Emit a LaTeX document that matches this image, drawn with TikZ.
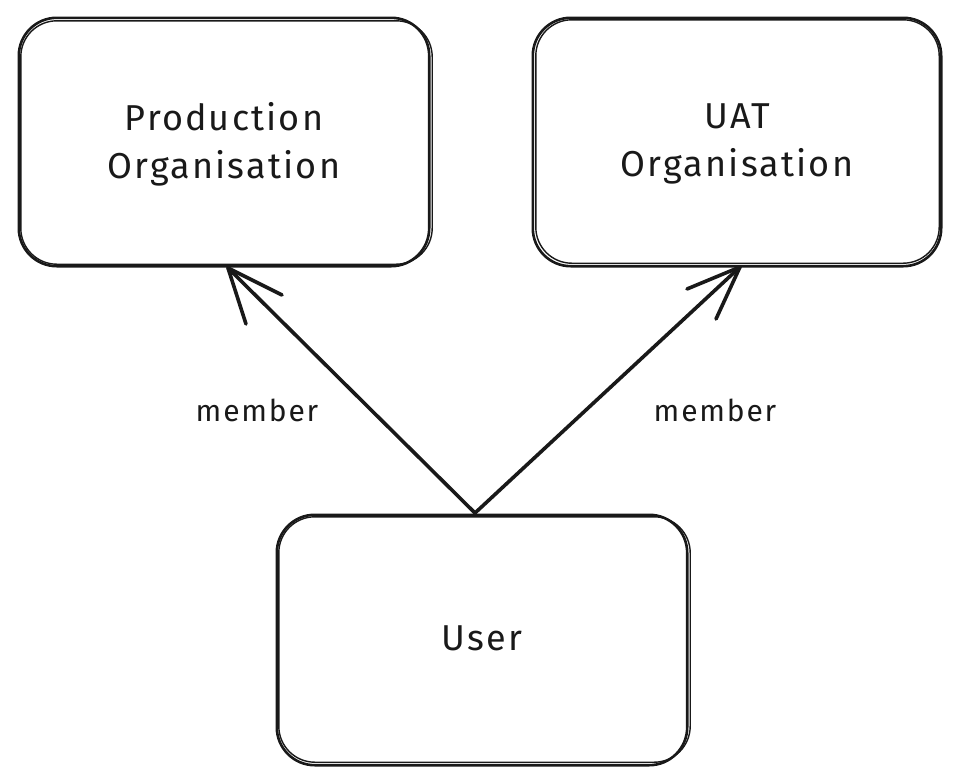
\documentclass[tikz,border=0pt]{standalone}
\usepackage{fontspec}
\setmainfont{Fira Sans}[LetterSpace=6]
\begin{document}
\begin{tikzpicture}[x=1pt,y=-1pt,
  boxline/.style={draw=black!90, line width=2.6pt, rounded corners=38pt},
  boxline2/.style={draw=black!90, line width=1.4pt, rounded corners=36pt},
  conn/.style={draw=black!90, line width=3.6pt, line cap=round},
  label/.style={font=\fontsize{36}{48}\selectfont, align=center, text=black!90},
  small/.style={font=\fontsize{30}{36}\selectfont, text=black!90}]
\useasboundingbox (0,0) rectangle (962,782);
% boxes
\node[minimum width=410pt, minimum height=248pt, inner sep=0pt] (prod) at (224,142) {};
\node[minimum width=408pt, minimum height=248pt, inner sep=0pt] (uat) at (737,142) {};
\node[minimum width=410pt, minimum height=250pt, inner sep=0pt] (user) at (482,640) {};
\draw[boxline] (prod.north west) rectangle (prod.south east);
\draw[boxline2] ([shift={(2,3)}]prod.north west) rectangle ([shift={(3,-2)}]prod.south east);
\draw[boxline] (uat.north west) rectangle (uat.south east);
\draw[boxline2] ([shift={(3,2)}]uat.north west) rectangle ([shift={(-2,-3)}]uat.south east);
\draw[boxline] (user.north west) rectangle (user.south east);
\draw[boxline2] ([shift={(2,2)}]user.north west) rectangle ([shift={(3,-3)}]user.south east);
% texts
\node[label] (prodtext) at (224,144) {Production\\Organisation};
\node[label] (uattext) at (737,144) {UAT\\Organisation};
\node[label] (usertext) at (482,638) {User};
% connectors
\coordinate (src) at (475,513);
\coordinate (tipL) at (228,268);
\coordinate (tipR) at (740,267);
\draw[conn] (src) -- (tipL);
\draw[conn] (tipL) -- (282,295);
\draw[conn] (tipL) -- (246,324);
\draw[conn] (src) -- (tipR);
\draw[conn] (tipR) -- (687,289);
\draw[conn] (tipR) -- (716,319);
\node[small] (m1) at (257,410) {member};
\node[small] (m2) at (715,410) {member};
\end{tikzpicture}
\end{document}
